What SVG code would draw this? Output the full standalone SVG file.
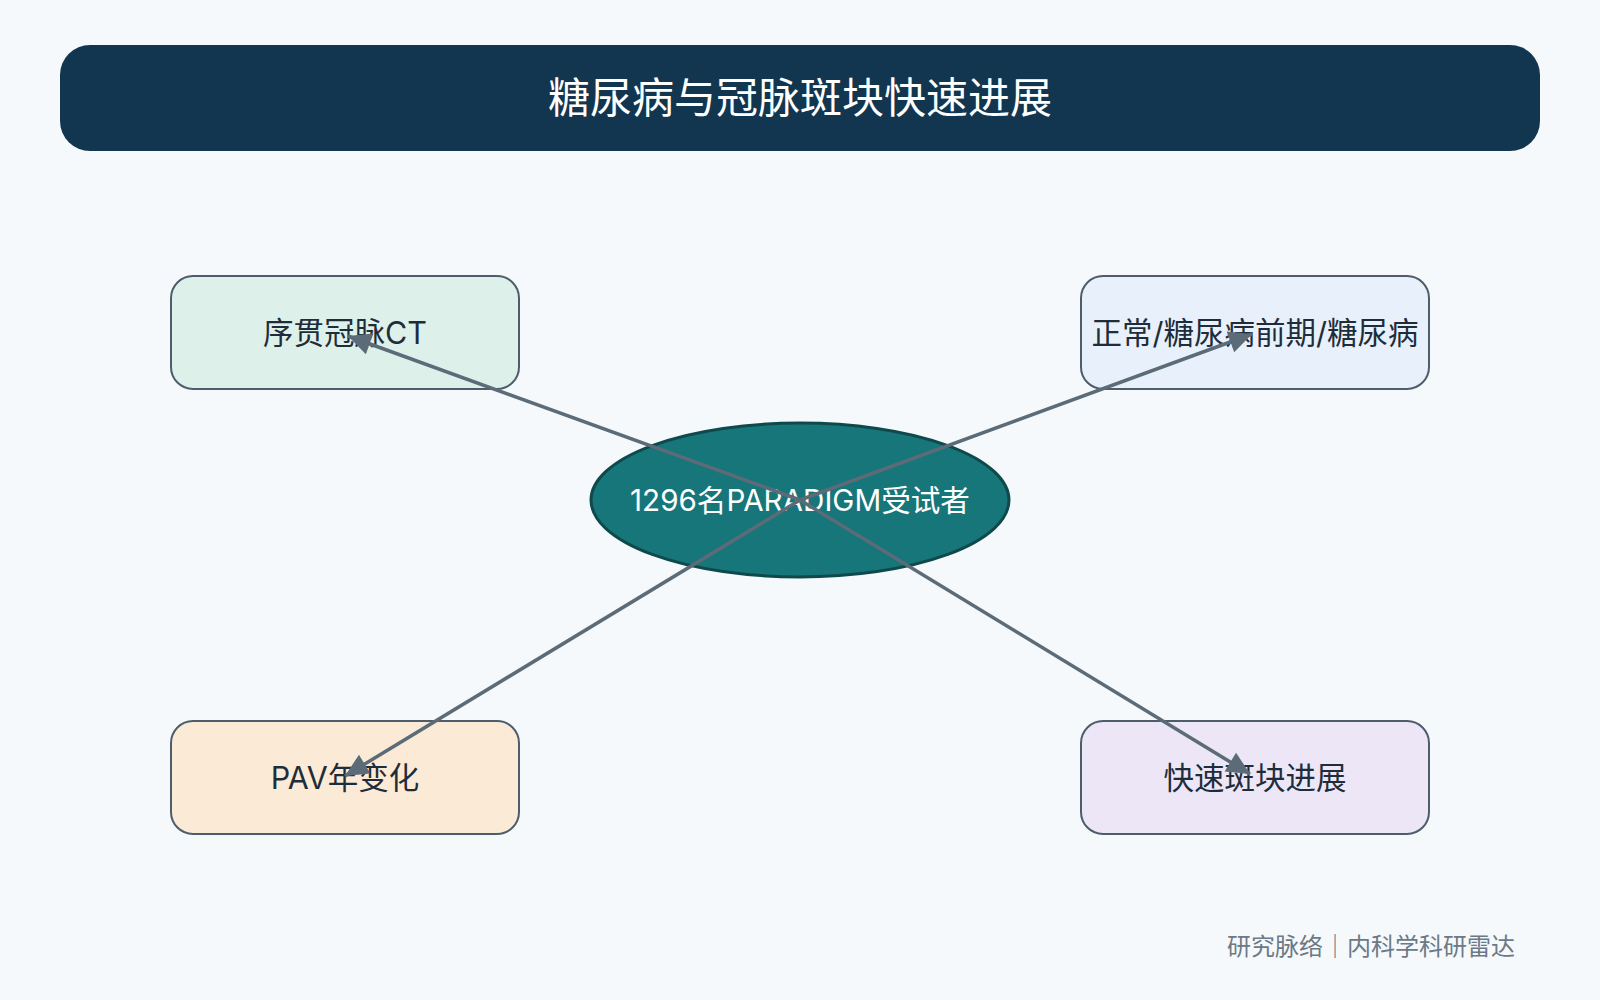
<svg xmlns="http://www.w3.org/2000/svg" width="1600" height="1000" viewBox="0 0 1600 1000">
<style>
text{font-family:Inter,"Noto Sans CJK SC",sans-serif;text-anchor:middle;dominant-baseline:central}
.box{stroke:#4d5d6c;stroke-width:2}
.lbl{font-size:30.5px;fill:#1f2d3a}
.con{stroke:#5b6b78;stroke-width:3.5;fill:none;marker-end:url(#ah)}
</style>
<defs><marker id="ah" viewBox="0 0 10 10" refX="9" refY="5" markerWidth="10" markerHeight="10" orient="auto" markerUnits="userSpaceOnUse" style="overflow:visible"><path d="M-14,-6 L9,5 L-14,16 Z" fill="#5b6b78"/></marker></defs>
<rect width="1600" height="1000" fill="#f5f9fc"/>
<g id="title"><rect x="60" y="45" width="1480" height="106" rx="30" fill="#12364f"/><text x="800" y="97" font-size="42" fill="#ffffff">糖尿病与冠脉斑块快速进展</text></g>
<g id="n1"><rect class="box" x="171" y="276" width="348" height="113" rx="22" fill="#ddf0ea"/><text class="lbl" x="345" y="332">序贯冠脉CT</text></g>
<g id="n2"><rect class="box" x="1081" y="276" width="348" height="113" rx="22" fill="#e8f1fb"/><text class="lbl" x="1255" y="332">正常/糖尿病前期/糖尿病</text></g>
<g id="n3"><rect class="box" x="171" y="721" width="348" height="113" rx="22" fill="#fbebd6"/><text class="lbl" x="345" y="777">PAV年变化</text></g>
<g id="n4"><rect class="box" x="1081" y="721" width="348" height="113" rx="22" fill="#ede6f6"/><text class="lbl" x="1255" y="777">快速斑块进展</text></g>
<g id="center"><ellipse cx="800" cy="500" rx="209" ry="77" fill="#17767a" stroke="#0e4a4c" stroke-width="3"/><text x="800" y="500" font-size="29.6" fill="#ffffff">1296名PARADIGM受试者</text></g>
<g id="connectors">
<line class="con" x1="800" y1="500" x2="348" y2="336"/>
<line class="con" x1="800" y1="500" x2="1252" y2="334"/>
<line class="con" x1="800" y1="500" x2="345" y2="776"/>
<line class="con" x1="800" y1="500" x2="1250" y2="774"/>
</g>
<text x="1515" y="946" font-size="24" fill="#6b7a86" style="text-anchor:end">研究脉络｜内科学科研雷达</text>
</svg>
